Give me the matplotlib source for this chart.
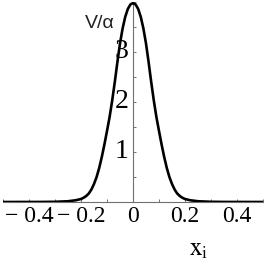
import matplotlib
matplotlib.use("Agg")
import matplotlib.pyplot as plt
from matplotlib.ticker import MultipleLocator, FixedLocator

plt.rcParams['mathtext.fontset'] = 'stix'

# Data
x_vals = [-0.5, -0.35, -0.30, -0.25, -0.22, -0.20, -0.19, -0.18, -0.17, -0.16, -0.15,
          -0.14, -0.13, -0.12, -0.11, -0.10, -0.09, -0.08, -0.07, -0.06, -0.05,
          -0.04, -0.03, -0.02, -0.01, 0.0, 0.01, 0.02, 0.03, 0.04, 0.05, 0.06,
          0.07, 0.08, 0.09, 0.10, 0.11, 0.12, 0.13, 0.14, 0.15, 0.16, 0.17,
          0.18, 0.19, 0.20, 0.22, 0.25, 0.30, 0.35, 0.5]
v_vals = [0.0, 0.001, 0.004, 0.015, 0.035, 0.06, 0.085, 0.12, 0.17, 0.25, 0.36,
          0.50, 0.68, 0.90, 1.15, 1.42, 1.70, 2.03, 2.40, 2.80, 3.17,
          3.47, 3.70, 3.86, 3.95, 3.98, 3.95, 3.86, 3.70, 3.47, 3.17, 2.80,
          2.40, 2.03, 1.70, 1.42, 1.15, 0.90, 0.68, 0.50, 0.36, 0.25, 0.17,
          0.12, 0.085, 0.06, 0.035, 0.015, 0.004, 0.001, 0.0]

x_major = [-0.4, -0.2, 0, 0.2, 0.4]
x_labels = ["\u2212 0.4", "\u2212 0.2", "0", "0.2", "0.4"]
y_major = [1, 2, 3]
y_labels = ["1", "2", "3"]
y_title = "V/\u03b1"
x_title = r"$\mathrm{x_i}$"

fig = plt.figure(figsize=(2.66, 2.66), dpi=100)
ax = fig.add_axes([3/266, (266-202)/266, 260/266, 200/266])
ax.plot(x_vals, v_vals, color='black', lw=1.9, solid_capstyle='butt', zorder=3)
ax.set_xlim(-0.5, 0.5)
ax.set_ylim(0, 4.0)

for s in ['top', 'right']:
    ax.spines[s].set_visible(False)
ax.spines['left'].set_position(('data', 0))
ax.spines['bottom'].set_position(('data', 0))
for s in ['left', 'bottom']:
    ax.spines[s].set_color('#707070')
    ax.spines[s].set_linewidth(0.8)

ax.xaxis.set_major_locator(FixedLocator(x_major))
ax.set_xticklabels(x_labels, family='Liberation Serif', fontsize=17)
ax.xaxis.set_minor_locator(MultipleLocator(0.1))
ax.yaxis.set_major_locator(FixedLocator(y_major))
ax.set_yticklabels(y_labels, family='Liberation Serif', fontsize=20)
ax.yaxis.set_minor_locator(MultipleLocator(0.5))

ax.tick_params(axis='both', which='both', direction='in', length=2.5,
               width=0.7, color='#707070')
ax.tick_params(axis='x', which='major', pad=3.0)
ax.tick_params(axis='y', which='major', pad=3.0)
for lbl in ax.get_yticklabels():
    lbl.set_verticalalignment('center')

ax.text(-0.069, 3.58, y_title, ha='right', va='center', fontsize=14,
        family='Liberation Sans', color='#222222')
ax.text(0.254, -0.94, x_title, ha='center', va='center', fontsize=18,
        clip_on=False)

fig.savefig("out.png", dpi=100)
